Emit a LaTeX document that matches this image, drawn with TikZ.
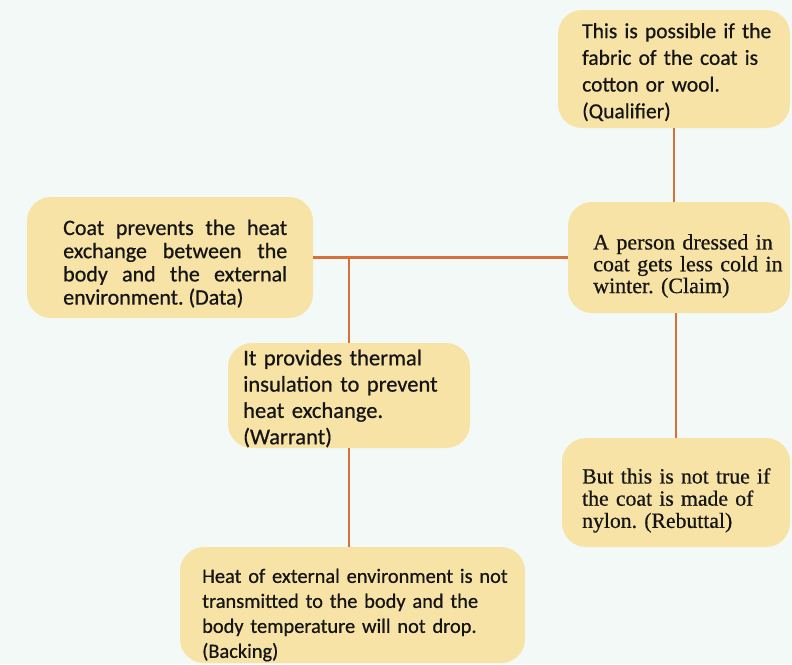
\documentclass[tikz,border=0pt]{standalone}
\usepackage{fontspec}
\setmainfont{Liberation Serif}[FakeBold=0.6]
\newfontfamily\carl{Carlito}[FakeBold=0.6]
\frenchspacing
\definecolor{bgc}{HTML}{F3F9F6}
\definecolor{boxc}{HTML}{F7E3A6}
\definecolor{linec}{HTML}{D8703A}
\definecolor{txtc}{HTML}{151515}
\tikzset{
  card/.style={rectangle, rounded corners=24pt, fill=boxc, draw=none, anchor=center, inner sep=0pt},
  txt/.style={anchor=north west, inner sep=0pt, align=left, text=txtc},
  link/.style={draw=linec, line width=2.6pt},
}
\begin{document}
\begin{tikzpicture}[x=1pt,y=-1pt]
\fill[bgc] (0,0) rectangle (792,664);
\useasboundingbox (0,0) rectangle (792,664);
% cards
\node[card, minimum width=232pt, minimum height=118pt] (qual) at (674,69) {};
\node[card, minimum width=222pt, minimum height=111pt] (claim) at (679,257.5) {};
\node[card, minimum width=286pt, minimum height=121pt] (data) at (170,257.5) {};
\node[card, minimum width=242pt, minimum height=105pt] (warrant) at (349,395.5) {};
\node[card, minimum width=228pt, minimum height=109pt] (rebut) at (676,492.5) {};
\node[card, minimum width=345pt, minimum height=116pt] (back) at (352.5,605) {};
% texts
\node[txt, text width=200pt, font=\carl\fontsize{21.5}{26.7}\selectfont] (qualt) at (582,23)
  {This is possible if the\\fabric of the coat is\\cotton or wool.\\(Qualifier)};
\node[txt, text width=195pt, font=\fontsize{22}{21.8}\selectfont] (claimt) at (593,234)
  {A person dressed in\\coat gets less cold in\\winter. (Claim)};
\node[txt, text width=224pt, align=justify, font=\carl\fontsize{22}{23.2}\selectfont] (datat) at (63,219.5)
  {Coat prevents the heat\linebreak exchange between the\linebreak body and the external\linebreak environment. (Data)};
\node[txt, text width=222pt, font=\carl\fontsize{22.5}{26.3}\selectfont] (warrantt) at (243,349.5)
  {It provides thermal\\insulation to prevent\\heat exchange.\\(Warrant)};
\node[txt, text width=200pt, font=\fontsize{21.7}{22.2}\selectfont] (rebutt) at (582,468)
  {But this is not true if\\the coat is made of\\nylon. (Rebuttal)};
\node[txt, text width=320pt, font=\carl\fontsize{20.4}{25}\selectfont] (backt) at (202,568.5)
  {Heat of external environment is not\\transmitted to the body and the\\body temperature will not drop.\\(Backing)};
% connectors
\draw[link] (data.east) -- (claim.west);
\draw[link] (warrant.north) -- (warrant.north |- data.east);
\draw[link] (warrant.south) -- (warrant.south |- back.north);
\draw[link] (qual.south) -- (qual.south |- claim.north);
\draw[link] (rebut.north |- claim.south) -- (rebut.north);
\end{tikzpicture}
\end{document}
